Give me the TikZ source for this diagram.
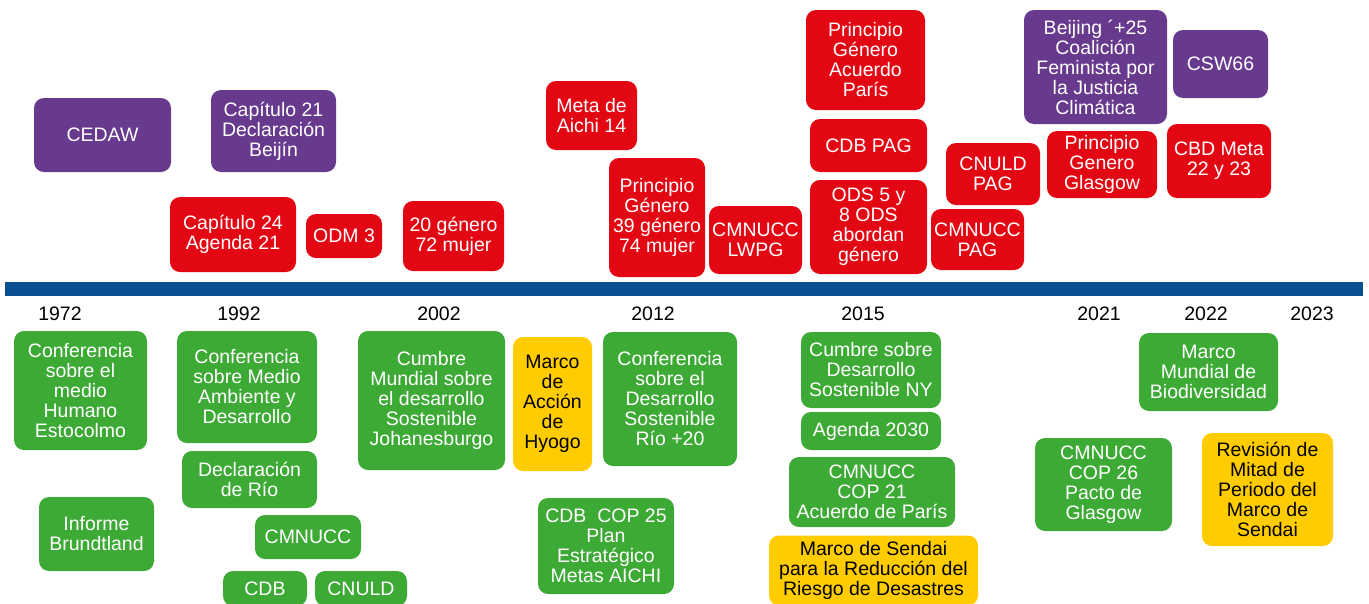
\documentclass[tikz,border=0pt]{standalone}
\usepackage{fontspec}
\setmainfont{Liberation Sans}
\definecolor{cpurple}{RGB}{103,58,142}
\definecolor{cred}{RGB}{227,6,19}
\definecolor{cgreen}{RGB}{62,170,54}
\definecolor{cyellow}{RGB}{255,204,0}
\definecolor{cblue}{RGB}{8,80,144}
\tikzset{
  ev/.style={rounded corners=10pt, inner sep=0pt, align=center,
    font=\fontsize{19.5}{20}\selectfont, text=white},
  pur/.style={ev, fill=cpurple},
  rd/.style={ev, fill=cred},
  gr/.style={ev, fill=cgreen},
  yl/.style={ev, fill=cyellow, text=black},
  yr/.style={font=\fontsize{19.5}{20}\selectfont, text=black, inner sep=0pt},
}
\newcommand{\bx}[7]{% style, name, cx, cy, w, h, text
  \node[#1, minimum width=#5pt, minimum height=#6pt] (#2) at (#3,#4) {#7};}
\begin{document}
\begin{tikzpicture}[x=1pt,y=-1pt]
\useasboundingbox (0,0) rectangle (1369,603);
\clip (0,0) rectangle (1369,603);
\fill[white] (0,0) rectangle (1369,603);
% timeline bar
\fill[cblue] (5,282) rectangle (1363,296);
% years
\node[yr] (y1972) at (60,314) {1972};
\node[yr] (y1992) at (239,314) {1992};
\node[yr] (y2002) at (439,314) {2002};
\node[yr] (y2012) at (653,314) {2012};
\node[yr] (y2015) at (863,314) {2015};
\node[yr] (y2021) at (1099,314) {2021};
\node[yr] (y2022) at (1206,314) {2022};
\node[yr] (y2023) at (1312,314) {2023};
% top events
\bx{pur}{cedaw}{102.5}{135}{137}{74}{CEDAW}
\bx{pur}{cap21}{273.5}{131}{125}{82}{Capítulo 21\\Declaración\\Beijín}
\bx{rd}{cap24}{233}{234.5}{126}{75}{Capítulo 24\\Agenda 21}
\bx{rd}{odm3}{344}{236}{76}{44}{ODM 3}
\bx{rd}{g20}{453.5}{236}{101}{70}{20 género\\72 mujer}
\bx{rd}{aichi}{591.5}{115.5}{91}{69}{Meta de\\Aichi 14}
\bx{rd}{pg39}{657}{217.5}{96}{119}{Principio\\Género\\39 género\\74 mujer}
\bx{rd}{lwpg}{755.5}{240}{93}{68}{CMNUCC\\LWPG}
\bx{rd}{pgparis}{865.5}{60}{119}{100}{Principio\\Género\\Acuerdo\\París}
\bx{rd}{cdbpag}{868.5}{145.5}{117}{53}{CDB PAG}
\bx{rd}{ods}{868.5}{227}{117}{94}{ODS 5 y\\8 ODS\\abordan\\género}
\bx{rd}{cnuldpag}{993}{174}{94}{62}{CNULD\\PAG}
\bx{rd}{cmnuccpag}{977.5}{239.5}{93}{61}{CMNUCC\\PAG}
\bx{pur}{beijing}{1095.5}{67}{143}{114}{Beijing ´+25\\Coalición\\Feminista por\\la Justicia\\Climática}
\bx{pur}{csw}{1220.5}{64}{95}{68}{CSW66}
\bx{rd}{pgglasgow}{1102}{164.5}{110}{67}{Principio\\Genero\\Glasgow}
\bx{rd}{cbdmeta}{1219}{161}{104}{74}{CBD Meta\\22 y 23}
% bottom events
\bx{gr}{estocolmo}{80.5}{390.5}{133}{119}{Conferencia\\sobre el\\medio\\Humano\\Estocolmo}
\bx{gr}{rio92}{247}{387}{140}{112}{Conferencia\\sobre Medio\\Ambiente y\\Desarrollo}
\bx{gr}{declrio}{249.5}{479.5}{135}{57}{Declaración\\de Río}
\bx{gr}{brundtland}{96.5}{534}{115}{74}{Informe\\Brundtland}
\bx{gr}{cmnucc}{308}{537}{106}{44}{CMNUCC}
\bx{gr}{cdb}{265}{588.5}{84}{35}{CDB}
\bx{gr}{cnuld}{361}{588.5}{92}{35}{CNULD}
\bx{gr}{johannesburgo}{431.5}{400.5}{147}{139}{Cumbre\\Mundial sobre\\el desarrollo\\Sostenible\\Johanesburgo}
\bx{yl}{hyogo}{552.5}{404}{79}{134}{Marco\\de\\Acción\\de\\Hyogo}
\bx{gr}{rio20}{670}{399}{134}{134}{Conferencia\\sobre el\\Desarrollo\\Sostenible\\Río +20}
\bx{gr}{cop25}{606}{546}{136}{96}{CDB\ \ COP 25\\Plan\\Estratégico\\Metas AICHI}
\bx{gr}{ny}{871}{370}{140}{76}{Cumbre sobre\\Desarrollo\\Sostenible NY}
\bx{gr}{ag2030}{871}{431}{140}{38}{Agenda 2030}
\bx{gr}{cop21}{872}{492}{166}{70}{CMNUCC\\COP 21\\Acuerdo de París}
\bx{yl}{sendai}{873.5}{570.5}{209}{70}{Marco de Sendai\\para la Reducción del\\Riesgo de Desastres}
\bx{gr}{mmb}{1208.5}{372}{139}{78}{Marco\\Mundial de\\Biodiversidad}
\bx{gr}{cop26}{1103.5}{484.5}{137}{93}{CMNUCC\\COP 26\\Pacto de\\Glasgow}
\bx{yl}{revision}{1267.5}{489.5}{131}{113}{Revisión de\\Mitad de\\Periodo del\\Marco de\\Sendai}
\end{tikzpicture}
\end{document}
